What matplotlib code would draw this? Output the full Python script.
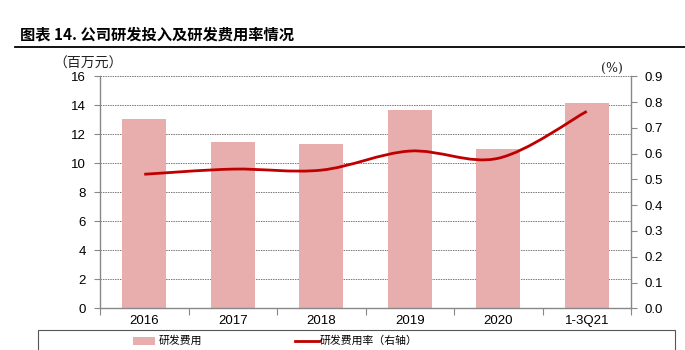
import matplotlib
matplotlib.use("Agg")
import matplotlib.pyplot as plt
from matplotlib.path import Path
from matplotlib.patches import PathPatch, Rectangle
from matplotlib.lines import Line2D
import numpy as np

plt.rcParams['font.family'] = ['Liberation Sans', 'Noto Sans CJK SC', 'DejaVu Sans']

categories = ['2016', '2017', '2018', '2019', '2020', '1-3Q21']
rd_expense = [13.03, 11.45, 11.35, 13.68, 10.97, 14.16]
rd_rate = [0.52, 0.54, 0.536, 0.61, 0.582, 0.764]
left_ticks = [0, 2, 4, 6, 8, 10, 12, 14, 16]
right_ticks = [0.0, 0.1, 0.2, 0.3, 0.4, 0.5, 0.6, 0.7, 0.8, 0.9]

title = '图表 14. 公司研发投入及研发费用率情况'
bar_label = '研发费用'
line_label = '研发费用率（右轴）'

W, H = 685, 350
fig = plt.figure(figsize=(W / 100, H / 100), dpi=100)

def fx(px):
    return px / W

def fy(py):
    return 1 - py / H

ax = fig.add_axes([fx(100), fy(308.3), fx(631) - fx(100), fy(76.3) - fy(308.3)])
x = np.arange(len(categories))
bar_color = '#E8AEAE'
line_color = '#C00000'
ax.bar(x, rd_expense, width=0.5, color=bar_color, zorder=2)
ax.set_xlim(-0.5, len(categories) - 0.5)
ax.set_ylim(0, 16)
ax.set_yticks(left_ticks)
ax.set_yticklabels([str(t) for t in left_ticks], fontsize=9.5)
ax.yaxis.grid(True, color='#777777', linestyle=(0, (1.5, 1)), linewidth=0.7, zorder=0)
ax.set_axisbelow(True)
ax.set_xticks(np.arange(-0.5, len(categories)), minor=False)
ax.set_xticklabels([''] * (len(categories) + 1))
ax.set_xticks(x, minor=True)
ax.set_xticklabels(categories, minor=True, fontsize=9.5)
ax.tick_params(axis='x', which='minor', length=0, pad=5)
ax.tick_params(axis='x', which='major', length=5, color='#888888', direction='out')
ax.tick_params(axis='y', length=4, color='#888888', direction='out', pad=6)
for s in ['top', 'right']:
    ax.spines[s].set_visible(False)
for s in ['left', 'bottom']:
    ax.spines[s].set_color('#888888')
    ax.spines[s].set_linewidth(1.0)

ax2 = ax.twinx()
ax2.set_ylim(0, 0.9)
ax2.set_yticks(right_ticks)
ax2.set_yticklabels([f'{t:.1f}' for t in right_ticks], fontsize=9.5)
ax2.tick_params(axis='y', length=4, color='#888888', direction='out', pad=6)
for s in ['top', 'left', 'bottom']:
    ax2.spines[s].set_visible(False)
ax2.spines['right'].set_color('#888888')
ax2.spines['right'].set_linewidth(1.0)

# smoothed line (cubic Bezier through data points)
pts = np.column_stack([x, rd_rate]).astype(float)
n = len(pts)
verts = [tuple(pts[0])]
codes = [Path.MOVETO]
for i in range(n - 1):
    p0 = pts[i - 1] if i > 0 else pts[i]
    p1 = pts[i]
    p2 = pts[i + 1]
    p3 = pts[i + 2] if i + 2 < n else pts[i + 1]
    c1 = p1 + (p2 - p0) / 6.0
    c2 = p2 - (p3 - p1) / 6.0
    verts += [tuple(c1), tuple(c2), tuple(p2)]
    codes += [Path.CURVE4] * 3
path = Path(verts, codes)
ax2.add_patch(PathPatch(path, facecolor='none', edgecolor=line_color, linewidth=2.0,
                        capstyle='butt', zorder=3))

# unit labels
fig.text(fx(88), fy(64), '（百万元）', fontsize=10, ha='center', va='center',
         family=['Noto Sans CJK SC', 'DejaVu Sans'], color='#222222')
fig.text(fx(612), fy(68), '(%)', fontsize=9, ha='center', va='center',
         family=['DejaVu Serif'], color='#222222')

# title and rule
fig.text(fx(20), fy(34), title, fontsize=11, fontweight='bold', ha='left', va='center',
         family=['Noto Sans CJK SC', 'DejaVu Sans'])
fig.add_artist(Line2D([fx(15), fx(685)], [fy(47), fy(47)], color='black', linewidth=1.3))

# legend box
fig.add_artist(Rectangle((fx(38), fy(352)), fx(675) - fx(38), fy(330) - fy(352),
                         facecolor='none', edgecolor='#555555', linewidth=0.8,
                         transform=fig.transFigure))
fig.add_artist(Rectangle((fx(133), fy(345)), fx(155) - fx(133), fy(337) - fy(345),
                         facecolor=bar_color, edgecolor='none', transform=fig.transFigure))
fig.text(fx(159), fy(341), bar_label, fontsize=7.8, ha='left', va='center',
         family=['Noto Sans CJK SC', 'DejaVu Sans'])
fig.add_artist(Line2D([fx(295), fx(319)], [fy(341), fy(341)], color=line_color, linewidth=2.0))
fig.text(fx(320), fy(341), line_label, fontsize=7.8, ha='left', va='center',
         family=['Noto Sans CJK SC', 'DejaVu Sans'])

fig.savefig('out.png', dpi=100)
